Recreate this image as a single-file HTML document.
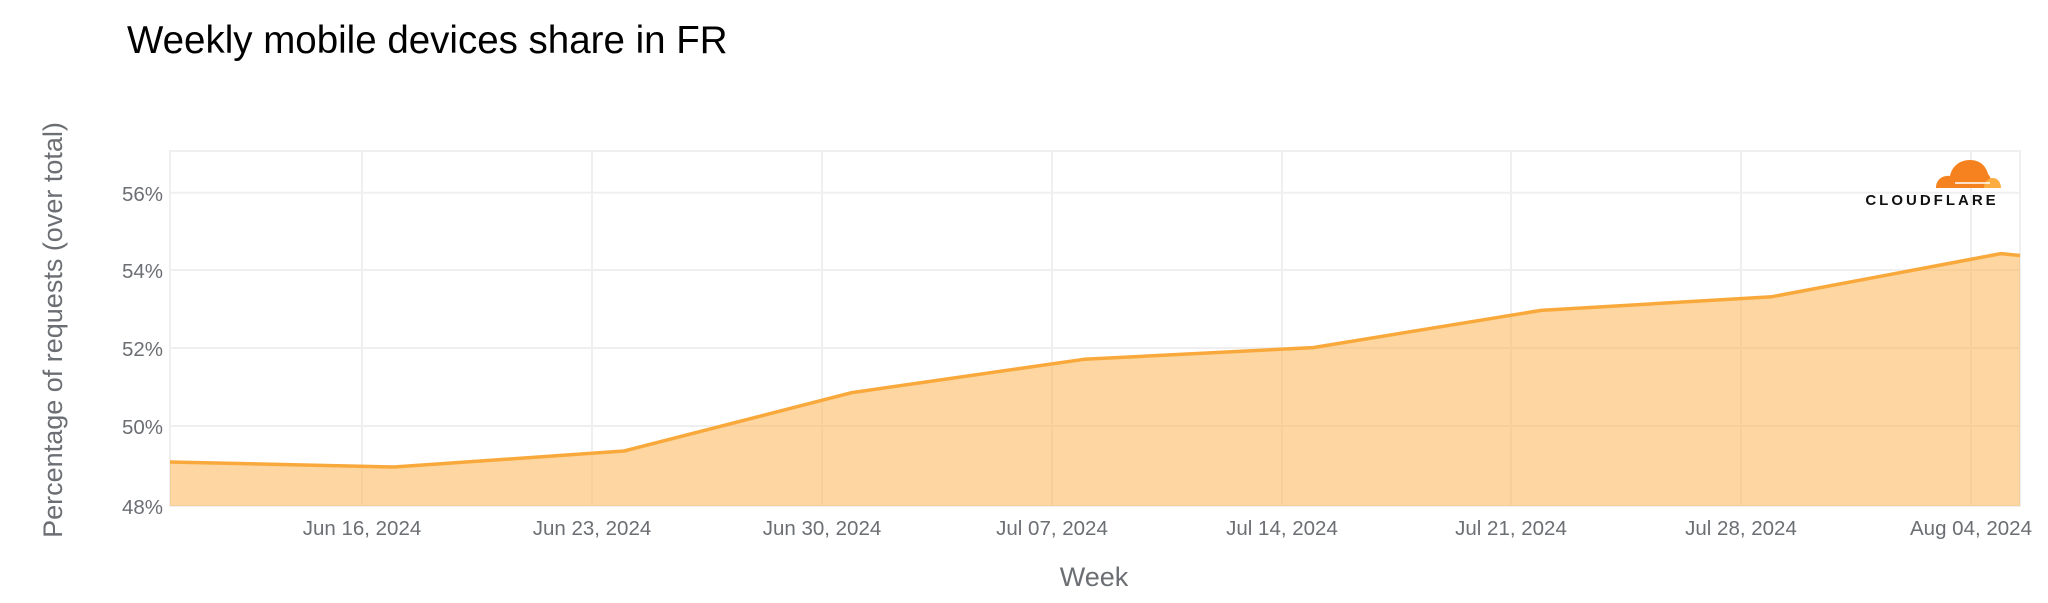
<!DOCTYPE html>
<html><head><meta charset="utf-8"><style>
html,body{margin:0;padding:0;background:#fff;width:2048px;height:603px;overflow:hidden}
svg{display:block}
text{font-family:"Liberation Sans",Arial,sans-serif}
</style></head><body>
<svg width="2048" height="603" viewBox="0 0 2048 603" xmlns="http://www.w3.org/2000/svg">
<text x="127" y="53" font-size="38.5" fill="#000">Weekly mobile devices share in FR</text>
<g stroke="#efefef" stroke-width="2" fill="none">
<rect x="170" y="151" width="1850" height="355"/>
<line x1="170" y1="192.7" x2="2020" y2="192.7"/>
<line x1="170" y1="270" x2="2020" y2="270"/>
<line x1="170" y1="348" x2="2020" y2="348"/>
<line x1="170" y1="426" x2="2020" y2="426"/>
<line x1="362" y1="151" x2="362" y2="506"/>
<line x1="592" y1="151" x2="592" y2="506"/>
<line x1="822" y1="151" x2="822" y2="506"/>
<line x1="1052" y1="151" x2="1052" y2="506"/>
<line x1="1282" y1="151" x2="1282" y2="506"/>
<line x1="1511" y1="151" x2="1511" y2="506"/>
<line x1="1741" y1="151" x2="1741" y2="506"/>
<line x1="1971" y1="151" x2="1971" y2="506"/>
</g>
<polygon fill="#fbb454" fill-opacity="0.55" points="170,462 394,467 624,451 852,392.6 1084,359.3 1313,347.6 1541,310.4 1772,296.7 2001,253.6 2020,255.5 2020,506 170,506"/>
<polyline fill="none" stroke="#f9a93b" stroke-width="3.5" stroke-linejoin="round" points="170,462 394,467 624,451 852,392.6 1084,359.3 1313,347.6 1541,310.4 1772,296.7 2001,253.6 2020,255.5"/>
<g font-size="20.5" fill="#6b6e73" text-anchor="end">
<text x="163" y="201">56%</text>
<text x="163" y="278">54%</text>
<text x="163" y="356">52%</text>
<text x="163" y="434">50%</text>
<text x="163" y="514">48%</text>
</g>
<g font-size="20.5" fill="#6b6e73" text-anchor="middle">
<text x="362" y="535">Jun 16, 2024</text>
<text x="592" y="535">Jun 23, 2024</text>
<text x="822" y="535">Jun 30, 2024</text>
<text x="1052" y="535">Jul 07, 2024</text>
<text x="1282" y="535">Jul 14, 2024</text>
<text x="1511" y="535">Jul 21, 2024</text>
<text x="1741" y="535">Jul 28, 2024</text>
<text x="1971" y="535">Aug 04, 2024</text>
</g>
<text x="1094" y="586" font-size="27" fill="#6b6e73" text-anchor="middle">Week</text>
<text transform="translate(62,330) rotate(-90)" font-size="27" fill="#6b6e73" text-anchor="middle">Percentage of requests (over total)</text>
<g>
<path d="M1936,188 C1936,180 1942,175 1950,176 C1952,166 1960,160 1970,160 C1980,160 1986,166 1988,174 C1990,176 1992,180 1992,188 Z" fill="#f6821f"/>
<path d="M1984,188 C1984,182 1988,178 1993,178 C1998,178 2001,183 2001,188 Z" fill="#fbad41"/>
<line x1="1955" y1="183" x2="1990" y2="183" stroke="#fff" stroke-width="1.5"/>
<text x="1932" y="205" font-size="15" font-weight="bold" fill="#111" text-anchor="middle" letter-spacing="3">CLOUDFLARE</text>
</g>
</svg>
</body></html>
